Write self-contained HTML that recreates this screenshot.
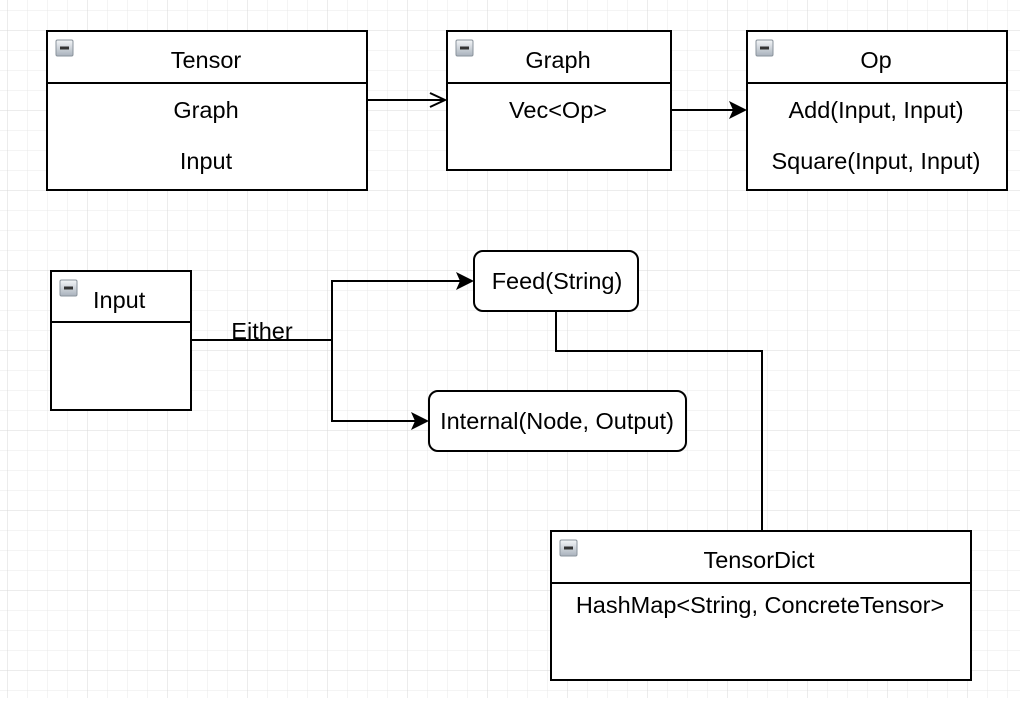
<!DOCTYPE html>
<html><head><style>
body{margin:0;background:#fff;}
svg text{font-family:"Liberation Sans",Helvetica,Arial,sans-serif;font-size:23.5px;fill:#000;}
</style></head><body>
<svg width="1020" height="698" viewBox="0 0 1020 698" xmlns="http://www.w3.org/2000/svg">
<defs>
<pattern id="minor" width="20" height="20" patternUnits="userSpaceOnUse" x="7" y="10">
<path d="M0 0H20M0 0V20" stroke="#e8e8e8" stroke-width="1" fill="none"/>
</pattern>
<pattern id="major" width="80" height="80" patternUnits="userSpaceOnUse" x="7" y="30">
<path d="M0 0H80M0 0V80" stroke="#d8d8d8" stroke-width="1" fill="none"/>
</pattern>
<linearGradient id="ig" x1="0" y1="0" x2="0" y2="1"><stop offset="0" stop-color="#f4f6f8"/><stop offset="1" stop-color="#a9b2bc"/></linearGradient>
<g id="icon"><rect x="0" y="0" width="17" height="16" fill="url(#ig)" stroke="#8a939c" stroke-width="1" rx="1.5"/><rect x="4" y="6.5" width="9" height="3" fill="#333"/></g>
</defs>
<rect width="1020" height="698" fill="url(#minor)"/>
<rect width="1020" height="698" fill="url(#major)"/>
<g fill="#fff" stroke="#000" stroke-width="2">
<rect x="47" y="31" width="320" height="159"/><line x1="47" y1="83" x2="367" y2="83"/>
<rect x="447" y="31" width="224" height="139"/><line x1="447" y1="83" x2="671" y2="83"/>
<rect x="747" y="31" width="260" height="159"/><line x1="747" y1="83" x2="1007" y2="83"/>
<rect x="51" y="271" width="140" height="139"/><line x1="51" y1="322" x2="191" y2="322"/>
<rect x="474" y="251" width="164" height="60" rx="9"/>
<rect x="429" y="391" width="257" height="60" rx="9"/>
<rect x="551" y="531" width="420" height="149"/><line x1="551" y1="583" x2="971" y2="583"/>
</g>
<use href="#icon" x="56" y="40"/><use href="#icon" x="456" y="40"/><use href="#icon" x="756" y="40"/>
<use href="#icon" x="60" y="280"/><use href="#icon" x="560" y="540"/>
<g fill="none" stroke="#000" stroke-width="2">
<line x1="367" y1="100" x2="444" y2="100"/><path d="M430 93L445 100L430 107"/>
<line x1="671" y1="110" x2="735" y2="110"/>
<path d="M191 340H332V281H462"/><path d="M332 340V421H417"/>
<path d="M556 311V351H762V531"/>
</g>
<g fill="#000">
<path d="M747 110L729 101L733 110L729 119Z"/>
<path d="M474 281L456 272L460 281L456 290Z"/>
<path d="M429 421L411 412L415 421L411 430Z"/>
</g>
<g text-anchor="middle">
<text x="206" y="68">Tensor</text><text x="206" y="118">Graph</text><text x="206" y="169">Input</text>
<text x="558" y="68">Graph</text><text x="558" y="118">Vec&lt;Op&gt;</text>
<text x="876" y="68">Op</text><text x="876" y="118">Add(Input, Input)</text><text x="876" y="169">Square(Input, Input)</text>
<text x="557" y="289">Feed(String)</text>
<text x="557" y="429">Internal(Node, Output)</text>
<text x="759" y="568">TensorDict</text><text x="760" y="613">HashMap&lt;String, ConcreteTensor&gt;</text>
<text x="262" y="339">Either</text>
</g>
<text x="93" y="308">Input</text>
</svg>
</body></html>
